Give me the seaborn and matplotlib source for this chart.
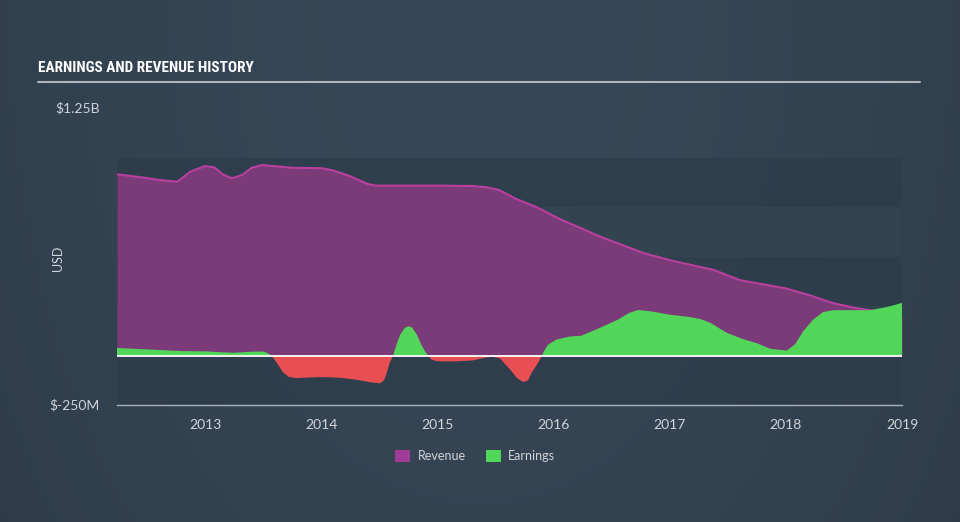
import numpy as np
import pandas as pd
import matplotlib
matplotlib.use("Agg")
import matplotlib.pyplot as plt
from matplotlib.patches import Patch
from matplotlib import font_manager
import seaborn as sns

# ---- data (values in billions USD) ----
rev_year = [2012.24, 2012.45, 2012.61, 2012.76, 2012.87, 2013.0, 2013.08, 2013.15, 2013.23,
            2013.32, 2013.40, 2013.49, 2013.62, 2013.75, 2014.0, 2014.1, 2014.25, 2014.40,
            2014.47, 2015.02, 2015.3, 2015.42, 2015.53, 2015.68, 2015.85, 2016.05, 2016.27,
            2016.40, 2016.55, 2016.78, 2017.0, 2017.2, 2017.38, 2017.6, 2017.8, 2018.0,
            2018.2, 2018.41, 2018.6, 2018.72, 2018.85, 2019.0]
rev_val = [0.915, 0.900, 0.886, 0.878, 0.928, 0.957, 0.950, 0.915, 0.895,
           0.912, 0.948, 0.962, 0.955, 0.948, 0.946, 0.935, 0.905, 0.866,
           0.858, 0.858, 0.856, 0.850, 0.836, 0.790, 0.750, 0.690, 0.634,
           0.600, 0.567, 0.516, 0.482, 0.455, 0.432, 0.381, 0.360, 0.339,
           0.305, 0.264, 0.240, 0.229, 0.218, 0.204]

earn_year = [2012.24, 2012.6, 2012.8, 2013.0, 2013.15, 2013.25, 2013.4, 2013.5, 2013.53,
             2013.57, 2013.62, 2013.67, 2013.72, 2013.78, 2013.9, 2014.0, 2014.15, 2014.3,
             2014.42, 2014.506, 2014.54, 2014.564, 2014.59, 2014.618, 2014.65, 2014.679,
             2014.72, 2014.75, 2014.78, 2014.822, 2014.86, 2014.894, 2014.92, 2014.95,
             2015.0, 2015.15, 2015.3, 2015.42, 2015.47, 2015.539, 2015.625, 2015.683,
             2015.74, 2015.78, 2015.812, 2015.869, 2015.898, 2015.93, 2015.955, 2016.027,
             2016.142, 2016.24, 2016.4, 2016.55, 2016.65, 2016.73, 2016.85, 2017.0,
             2017.15, 2017.26, 2017.35, 2017.49, 2017.62, 2017.75, 2017.864, 2018.007,
             2018.078, 2018.15, 2018.236, 2018.32, 2018.408, 2018.724, 2018.839,
             2018.925, 2019.0]
earn_val = [0.038, 0.028, 0.022, 0.021, 0.016, 0.014, 0.019, 0.020, 0.014,
            0.0, -0.040, -0.085, -0.108, -0.114, -0.111, -0.109, -0.112, -0.122,
            -0.135, -0.141, -0.125, -0.086, -0.035, 0.0, 0.060, 0.106,
            0.140, 0.148, 0.142, 0.106, 0.055, 0.020, 0.0, -0.022,
            -0.029, -0.030, -0.025, -0.010, -0.006, -0.015, -0.071, -0.113,
            -0.135, -0.125, -0.086, -0.035, 0.0, 0.035, 0.056, 0.081,
            0.096, 0.100, 0.140, 0.180, 0.215, 0.230, 0.222, 0.206,
            0.196, 0.185, 0.165, 0.115, 0.085, 0.062, 0.034, 0.025,
            0.056, 0.123, 0.182, 0.219, 0.229, 0.229, 0.241,
            0.253, 0.266]

x_ticks = [2013, 2014, 2015, 2016, 2017, 2018, 2019]
y_labels = ["$1.25B", "$-250M"]
series_names = ["Revenue", "Earnings"]

rev = pd.DataFrame({"year": rev_year, "value": rev_val})
earn = pd.DataFrame({"year": earn_year, "value": earn_val})

# ---- style ----
sns.set_style("dark")
plt.rcParams["font.family"] = ["Lato", "DejaVu Sans"]

installed = {f.name for f in font_manager.fontManager.ttflist}
title_fams = [f for f in ["Roboto Condensed", "Open Sans Condensed", "Liberation Sans Narrow",
                          "Roboto"] if f in installed] + ["DejaVu Sans"]

BG = "#344452"
BAND_DARK = "#2e3d4c"
TXT = "#d0d5da"
REV_FILL = "#7b3a78"
REV_LINE = "#b9409f"
EARN_POS = "#52d65a"
EARN_NEG = "#e84f52"

fig = plt.figure(figsize=(9.6, 5.22), dpi=100)
fig.patch.set_facecolor(BG)

# background gradient
bgax = fig.add_axes([0, 0, 1, 1], zorder=-10)
gx = np.linspace(-1, 1, 400)
gy = np.linspace(-1, 1, 220)
GX, GY = np.meshgrid(gx, gy)
g = 1 - 0.55 * (GX ** 2) - 0.25 * ((GY + 1) / 2) ** 2
c1 = np.array([0x2d, 0x3a, 0x46]) / 255
c2 = np.array([0x36, 0x47, 0x57]) / 255
img = c1[None, None, :] + (c2 - c1)[None, None, :] * g[..., None]
bgax.imshow(np.clip(img, 0, 1), aspect="auto", extent=[0, 1, 0, 1], origin="upper")
bgax.axis("off")

ax = fig.add_axes([117 / 960, 1 - 405 / 522, (902 - 117) / 960, (405 - 108) / 522])
ax.set_facecolor("none")
ax.set_xlim(2012.24, 2019.0)
ax.set_ylim(-0.25, 1.25)

# bands
for lo, hi in [(0.75, 1.0), (0.25, 0.5), (-0.25, 0.0)]:
    ax.axhspan(lo, hi, color=BAND_DARK, alpha=0.85, lw=0, zorder=0)
for lo, hi in [(0.5, 0.75), (0.0, 0.25)]:
    ax.axhspan(lo, hi, color="#33444f", alpha=0.5, lw=0, zorder=0)

# revenue
ax.fill_between(rev["year"], 0, rev["value"], color=REV_FILL, lw=0, zorder=1)
sns.lineplot(data=rev, x="year", y="value", ax=ax, color=REV_LINE, lw=1.5, zorder=2)

# earnings
ey = np.array(earn_val)
ax.fill_between(earn["year"], 0, earn["value"], where=ey >= 0, interpolate=True,
                color=EARN_POS, lw=0, zorder=3)
ax.fill_between(earn["year"], 0, earn["value"], where=ey <= 0, interpolate=True,
                color=EARN_NEG, lw=0, zorder=3)
ax.axhline(0, color="white", lw=1.3, zorder=4)

# axes styling
for s in ["top", "right", "left"]:
    ax.spines[s].set_visible(False)
ax.spines["bottom"].set_color("#aab4bd")
ax.spines["bottom"].set_linewidth(1)
ax.set_yticks([])
ax.set_xticks(x_ticks)
ax.set_xticklabels([str(t) for t in x_ticks])
ax.tick_params(axis="x", colors="#aab4bd", length=9, width=1, labelcolor=TXT,
               labelsize=10, pad=1, direction="out")
ax.set_xlabel("")
ax.set_ylabel("")
ax.grid(False)

# y labels
fig.text(100 / 960, 1 - 108 / 522, y_labels[0], color=TXT, fontsize=10, ha="right", va="center")
fig.text(100 / 960, 1 - 405 / 522, y_labels[1], color=TXT, fontsize=10, ha="right", va="center")
fig.text(58 / 960, 1 - 258 / 522, "USD", color=TXT, fontsize=9, rotation=90, ha="center", va="center")

# title
fig.text(38 / 960, 1 - 68 / 522, "EARNINGS AND REVENUE HISTORY", color="white",
         fontsize=11, fontweight="bold", ha="left", va="center",
         fontstretch="condensed", family=title_fams)
fig.add_artist(plt.Line2D([38 / 960, 920 / 960], [1 - 82 / 522, 1 - 82 / 522],
                          color="#aeb4ba", lw=1.5, transform=fig.transFigure))

# legend
handles = [Patch(facecolor="#a23b98", edgecolor="none", label=series_names[0]),
           Patch(facecolor=EARN_POS, edgecolor="none", label=series_names[1])]
leg = fig.legend(handles=handles, loc="center", bbox_to_anchor=(475 / 960, 1 - 456 / 522),
                 ncol=2, frameon=False, fontsize=9, handlelength=1.2, handleheight=1.2,
                 columnspacing=1.6, handletextpad=0.6)
for t in leg.get_texts():
    t.set_color(TXT)

fig.savefig("out.png", dpi=100, facecolor=fig.get_facecolor())
